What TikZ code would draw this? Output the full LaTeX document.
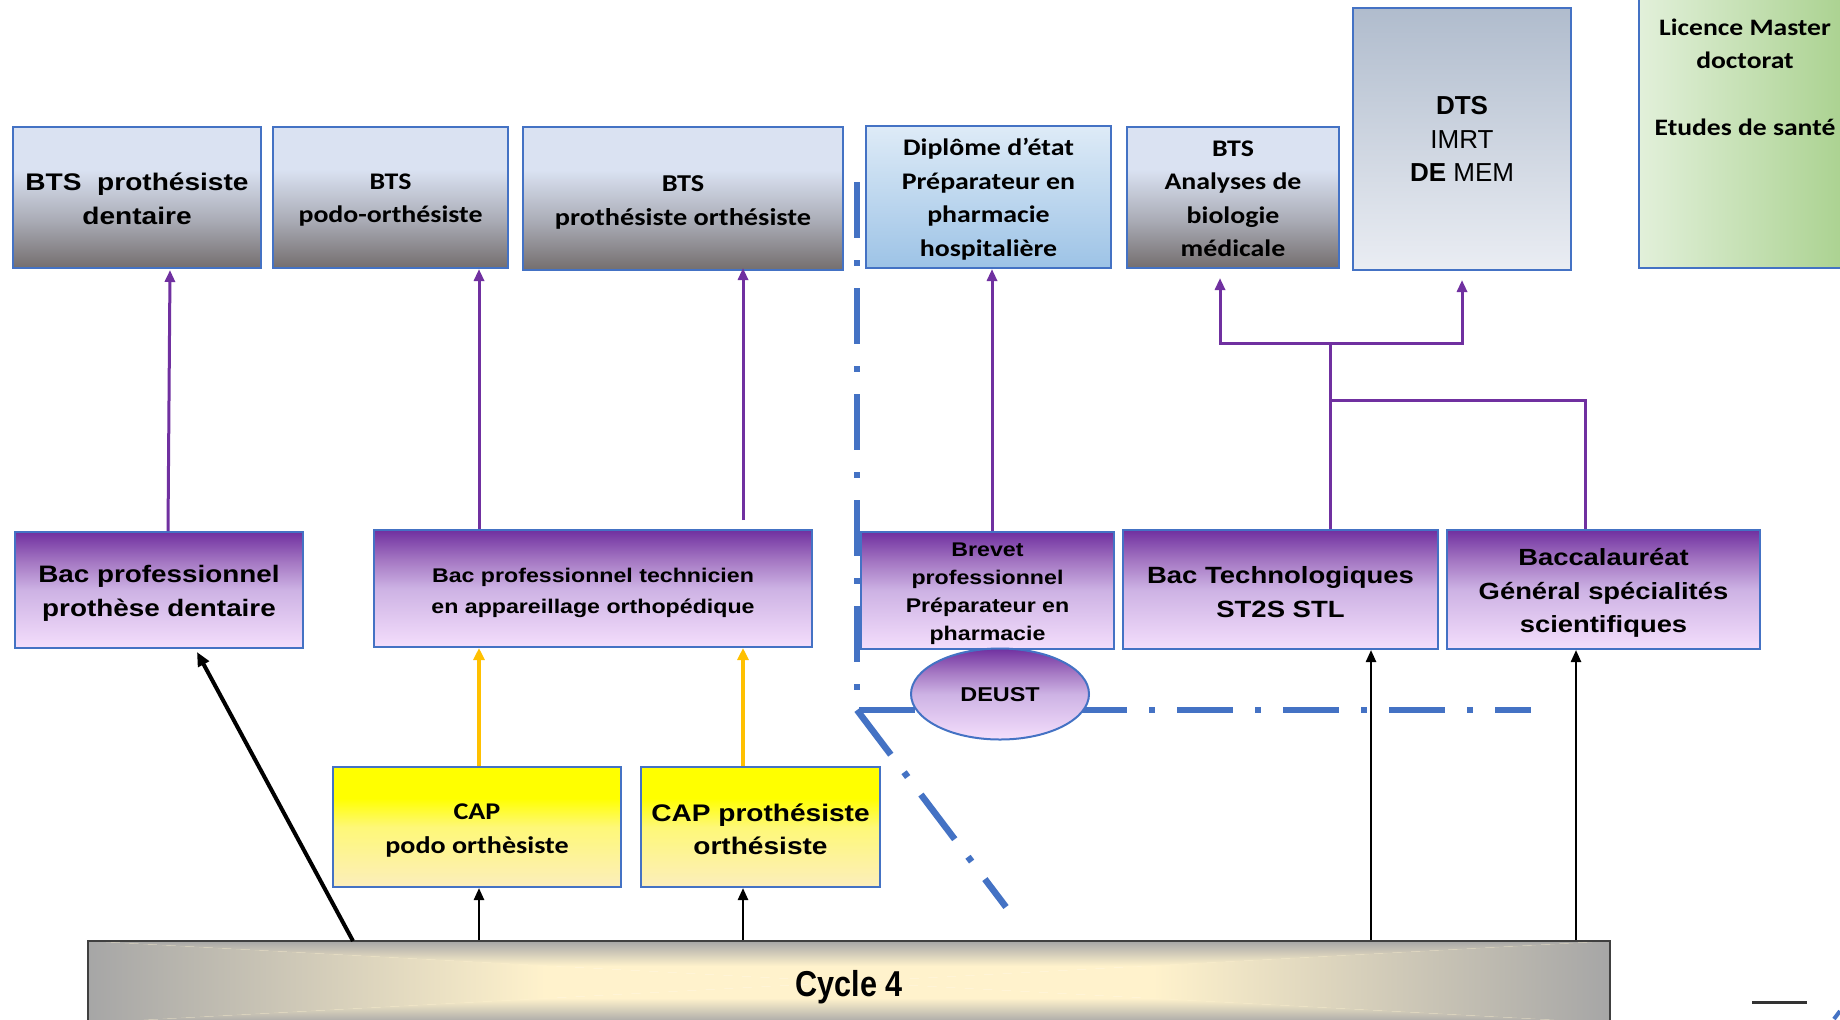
\documentclass[tikz,border=0pt]{standalone}
\usepackage{fontspec}
\usetikzlibrary{arrows.meta,calc,shapes.geometric}
\newfontfamily\AR[FakeStretch=1.17]{Liberation Sans}
\newfontfamily\ARP{Liberation Sans}
\newfontfamily\CA[FakeStretch=1.17]{Carlito}
\newfontfamily\ARN[FakeStretch=0.85]{Liberation Sans}
\definecolor{bordblue}{RGB}{68,114,196}
\definecolor{purp}{RGB}{112,48,160}
\definecolor{orng}{RGB}{255,192,0}
\definecolor{gtop}{RGB}{218,226,242}
\definecolor{gmid}{RGB}{170,172,182}
\definecolor{gbot}{RGB}{116,110,110}
\definecolor{ptop}{RGB}{112,48,160}
\definecolor{pmidA}{RGB}{165,120,195}
\definecolor{pmid}{RGB}{205,178,228}
\definecolor{pbot}{RGB}{244,222,252}
\definecolor{ytop}{RGB}{255,255,0}
\definecolor{ymid}{RGB}{254,248,120}
\definecolor{ybot}{RGB}{252,238,188}
\definecolor{btop}{RGB}{222,235,247}
\definecolor{bbot}{RGB}{157,195,230}
\definecolor{sltop}{RGB}{176,188,205}
\definecolor{slbot}{RGB}{234,237,243}
\definecolor{glight}{RGB}{226,240,218}
\definecolor{gdark}{RGB}{169,209,142}
\definecolor{cgray}{RGB}{166,166,166}
\definecolor{ccream}{RGB}{255,242,204}
\pgfdeclareverticalshading{grayshade}{100bp}{color(0bp)=(gbot); color(25bp)=(gbot); color(42bp)=(gmid); color(60bp)=(gtop); color(100bp)=(gtop)}
\pgfdeclareverticalshading{purpshade}{100bp}{color(0bp)=(pbot); color(25bp)=(pbot); color(50bp)=(pmid); color(62bp)=(pmidA); color(75bp)=(ptop); color(100bp)=(ptop)}
\pgfdeclareverticalshading{yelshade}{100bp}{color(0bp)=(ybot); color(25bp)=(ybot); color(50bp)=(ymid); color(62bp)=(ytop); color(100bp)=(ytop)}
\tikzset{
  bx/.style={draw=bordblue, line width=1pt, inner sep=0pt, rectangle},
  grayb/.style={bx, shade, shading=grayshade},
  purpb/.style={bx, shade, shading=purpshade},
  yelb/.style={bx, shade, shading=yelshade},
  txt/.style={inner sep=0pt, align=center},
  fAR/.style={font=\AR\bfseries\fontsize{#1}{17pt}\selectfont},
  pline/.style={draw=purp, line width=1.5pt},
  parrow/.style={pline, -{Triangle[width=5pt,length=6pt]}},
  oarrow/.style={draw=orng, line width=1.8pt, -{Triangle[width=5.5pt,length=6pt]}},
  karrow/.style={draw=black, line width=1.2pt, -{Triangle[width=5pt,length=6pt]}},
  karrowthick/.style={draw=black, line width=2pt, -{Triangle[width=6pt,length=7pt]}},
  bluedd/.style={draw=bordblue, line width=3.25pt, dash pattern=on 28pt off 11pt on 3pt off 11pt}
}
% \boxtext{node}{down shift}{font}{text}
\newcommand\boxtext[4]{\node[txt, font=#3] (#1t) at ($(#1.center)+(0,#2)$) {#4};}
\begin{document}
\begin{tikzpicture}[x=0.5pt,y=-0.5pt]
\useasboundingbox (0,0) rectangle (1840,1019);
\fill[white] (0,0) rectangle (1840,1019);
% column coordinates
\coordinate (col1) at (479,0);
\coordinate (col2) at (743,0);
\coordinate (col3) at (1371,0);
\coordinate (col4) at (1576,0);
\coordinate (col5) at (992,0);
% blue dash-dot separator
\coordinate (dtop) at (857,182);
\coordinate (dcorner) at (857,710);
\coordinate (dright) at (1531,710);
\coordinate (ddiag) at (1006,907);
\draw[bluedd] (dtop) -- (dcorner) -- (dright);
\draw[bluedd] (dcorner) -- (ddiag);
% Cycle 4 bar (path gradient)
\begin{scope}
\clip (88,941) -- (849,982) -- (88,1023) -- cycle;
\fill[ccream] (88,941) rectangle (849,1023);
\shade[left color=cgray, right color=ccream] (88,941) rectangle (545,1023);
\end{scope}
\begin{scope}
\clip (1610,941) -- (849,982) -- (1610,1023) -- cycle;
\fill[ccream] (849,941) rectangle (1610,1023);
\shade[left color=ccream, right color=cgray] (1153,941) rectangle (1610,1023);
\end{scope}
\begin{scope}
\clip (88,941) -- (1610,941) -- (849,982) -- cycle;
\fill[ccream] (88,941) rectangle (1610,982);
\shade[top color=cgray, bottom color=ccream] (88,941) rectangle (1610,966);
\end{scope}
\begin{scope}
\clip (88,1023) -- (1610,1023) -- (849,982) -- cycle;
\fill[ccream] (88,982) rectangle (1610,1023);
\shade[top color=ccream, bottom color=cgray] (88,998) rectangle (1610,1023);
\end{scope}
\node[draw=black!75, line width=1pt, minimum width=761pt, minimum height=41pt, inner sep=0pt] (cyc) at (849,982) {};
\boxtext{cyc}{5}{\ARN\bfseries\fontsize{18pt}{20pt}\selectfont}{Cycle 4}
% top row
\node[grayb, minimum width=124pt, minimum height=70.5pt] (A) at (137,197.5) {};
\boxtext{A}{1.2}{\AR\bfseries\fontsize{12pt}{17pt}\selectfont}{BTS~~prothésiste\\dentaire}
\node[grayb, minimum width=117.5pt, minimum height=70.5pt] (B) at (390.5,197.5) {};
\boxtext{B}{2.4}{\CA\bfseries\fontsize{11.9pt}{16.5pt}\selectfont}{BTS\\podo-orthésiste}
\node[grayb, minimum width=160pt, minimum height=71.5pt] (C) at (683,198.5) {};
\boxtext{C}{3.5}{\CA\bfseries\fontsize{12.1pt}{17pt}\selectfont}{BTS\\prothésiste orthésiste}
\node[bx, top color=btop, bottom color=bbot, minimum width=122.5pt, minimum height=71pt] (D) at (988.5,197) {};
\boxtext{D}{2.4}{\CA\bfseries\fontsize{11.9pt}{16.8pt}\selectfont}{Diplôme d’état\\Préparateur en\\pharmacie\\hospitalière}
\node[grayb, minimum width=106pt, minimum height=70.5pt] (E) at (1233,197.5) {};
\boxtext{E}{1.2}{\CA\bfseries\fontsize{11.9pt}{16.8pt}\selectfont}{BTS\\Analyses de\\biologie\\médicale}
\node[bx, top color=sltop, bottom color=slbot, minimum width=109pt, minimum height=131pt] (F) at (1462,139) {};
\boxtext{F}{0}{\ARP\fontsize{13pt}{16.7pt}\selectfont}{\textbf{DTS}\\IMRT\\\textbf{DE} MEM}
\node[bx, left color=glight, right color=gdark, minimum width=106pt, minimum height=192pt] (G) at (1745,76) {};
\boxtext{G}{1.2}{\CA\bfseries\fontsize{11.8pt}{16.8pt}\selectfont}{Licence Master\\doctorat\\[16.7pt]Etudes de santé}
% middle row
\node[purpb, minimum width=144pt, minimum height=58pt] (H) at (159,590) {};
\boxtext{H}{3.5}{\AR\bfseries\fontsize{11.9pt}{17pt}\selectfont}{Bac professionnel\\prothèse dentaire}
\node[purpb, minimum width=219pt, minimum height=58.5pt] (I) at (593,588.5) {};
\boxtext{I}{4.6}{\AR\bfseries\fontsize{9.9pt}{15.2pt}\selectfont}{Bac professionnel technicien\\en appareillage orthopédique}
\node[purpb, minimum width=126.5pt, minimum height=58.5pt] (J) at (987.5,590.5) {};
\boxtext{J}{3.5}{\AR\bfseries\fontsize{9.9pt}{14pt}\selectfont}{Brevet\\professionnel\\Préparateur en\\pharmacie}
\node[purpb, minimum width=157.5pt, minimum height=59.5pt] (K) at (1280.5,589.5) {};
\boxtext{K}{2.4}{\AR\bfseries\fontsize{11.75pt}{17pt}\selectfont}{Bac Technologiques\\ST2S STL}
\node[purpb, minimum width=156.5pt, minimum height=59.5pt] (L) at (1603.5,589.5) {};
\boxtext{L}{3.5}{\AR\bfseries\fontsize{11.7pt}{16.7pt}\selectfont}{Baccalauréat\\Général spécialités\\scientifiques}
\node[purpb, ellipse, minimum width=89pt, minimum height=45.5pt] (deust) at (1000,694) {};
\boxtext{deust}{1}{\AR\bfseries\fontsize{10pt}{12pt}\selectfont}{DEUST}
% bottom row
\node[yelb, minimum width=144pt, minimum height=60pt] (M) at (477,827) {};
\boxtext{M}{3.5}{\CA\bfseries\fontsize{12pt}{17pt}\selectfont}{CAP\\podo orthèsiste}
\node[yelb, minimum width=119.5pt, minimum height=60pt] (N) at (760.5,827) {};
\boxtext{N}{2.4}{\AR\bfseries\fontsize{12pt}{16.5pt}\selectfont}{CAP prothésiste\\orthésiste}
% purple connectors
\draw[parrow] ($(H.north)+(9,0)$) -- ($(A.south)+(33,1)$);
\draw[parrow] (I.north -| col1) -- (B.south -| col1);
\draw[parrow] ($(I.north -| col2)+(0,-9)$) -- ($(C.south -| col2)+(0,-3)$);
\draw[parrow] (J.north -| col5) -- (D.south -| col5);
\coordinate (jk) at (1330,343);
\coordinate (jl) at (1330,400);
\coordinate (lx) at (1585,400);
\draw[pline] (K.north -| jk) -- (jk);
\draw[parrow] (jk) -| ($(E.south)+(-13,9)$);
\draw[parrow] (jk) -| ($(F.south)+(0,9)$);
\draw[pline] (L.north -| lx) -- (lx) -- (jl);
% orange connectors
\draw[oarrow] (M.north -| col1) -- (I.south -| col1);
\draw[oarrow] (N.north -| col2) -- (I.south -| col2);
% black connectors from Cycle 4
\coordinate (diagstart) at (353,941);
\draw[karrowthick] (diagstart) -- ($(H.south)+(38,3)$);
\draw[karrow] (cyc.north -| col1) -- (M.south -| col1);
\draw[karrow] (cyc.north -| col2) -- (N.south -| col2);
\draw[karrow] (cyc.north -| col3) -- (K.south -| col3);
\draw[karrow] (cyc.north -| col4) -- (L.south -| col4);
% small marks bottom right
\draw[black!80, line width=1.5pt] (1752,1002) -- (1807,1002);
\draw[bordblue, line width=2pt] (1834,1019) -- (1840,1011);
\end{tikzpicture}
\end{document}
